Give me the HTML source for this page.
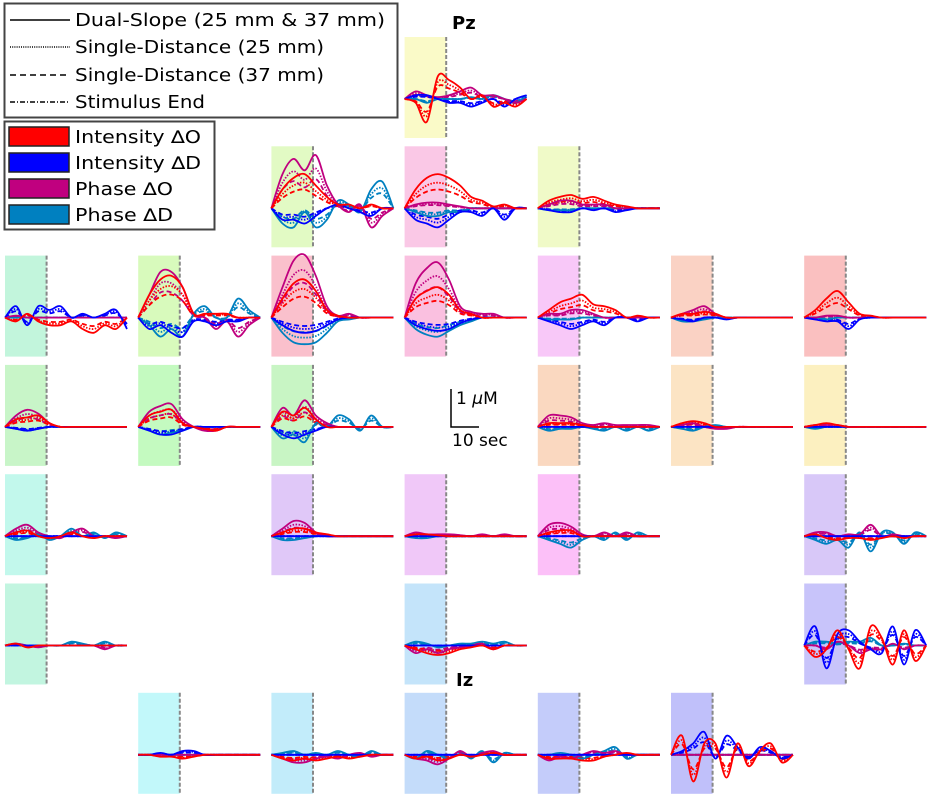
<!DOCTYPE html>
<html><head><meta charset="utf-8"><style>
body{margin:0;background:#fff;font-family:"DejaVu Sans","Liberation Sans",sans-serif}
svg{display:block}
</style></head><body>
<svg id="c" width="931" height="795" viewBox="0 0 931 795" font-family="DejaVu Sans, Liberation Sans, sans-serif">
<g>
<rect x="4.5" y="3.5" width="393" height="114" fill="#fff" stroke="#444" stroke-width="2"/>
<line x1="10" y1="20" x2="70" y2="20" stroke="#000" stroke-width="1.5"/>
<line x1="10" y1="47" x2="70" y2="47" stroke="#000" stroke-width="1.5" stroke-dasharray="1,1.2"/>
<line x1="10" y1="75" x2="70" y2="75" stroke="#000" stroke-width="1.5" stroke-dasharray="6,4"/>
<line x1="10" y1="102" x2="70" y2="102" stroke="#000" stroke-width="1.5" stroke-dasharray="5,2,1,2"/>
<g font-size="17.5" fill="#000">
<text x="75" y="26" textLength="310" lengthAdjust="spacingAndGlyphs">Dual-Slope (25 mm &amp; 37 mm)</text>
<text x="75" y="53" textLength="249" lengthAdjust="spacingAndGlyphs">Single-Distance (25 mm)</text>
<text x="75" y="81" textLength="249" lengthAdjust="spacingAndGlyphs">Single-Distance (37 mm)</text>
<text x="75" y="108" textLength="130" lengthAdjust="spacingAndGlyphs">Stimulus End</text>
</g></g>
<g>
<rect x="4.5" y="121.5" width="210" height="108" fill="#fff" stroke="#444" stroke-width="2"/>
<rect x="9" y="127" width="60" height="19" fill="#ff0000" stroke="#222" stroke-width="1.5"/>
<rect x="9" y="153" width="60" height="19" fill="#0000ff" stroke="#222" stroke-width="1.5"/>
<rect x="9" y="179" width="60" height="19" fill="#c0007f" stroke="#222" stroke-width="1.5"/>
<rect x="9" y="205" width="60" height="19" fill="#0080c0" stroke="#222" stroke-width="1.5"/>
<g font-size="17.5" fill="#000">
<text x="75" y="143" textLength="126" lengthAdjust="spacingAndGlyphs">Intensity ∆O</text>
<text x="75" y="169" textLength="126" lengthAdjust="spacingAndGlyphs">Intensity ∆D</text>
<text x="75" y="195" textLength="98" lengthAdjust="spacingAndGlyphs">Phase ∆O</text>
<text x="75" y="221" textLength="98" lengthAdjust="spacingAndGlyphs">Phase ∆D</text>
</g></g>
<text x="452" y="29" font-size="18" font-weight="bold">Pz</text>
<text x="456" y="686" font-size="18" font-weight="bold">Iz</text>
<g>
<path d="M451,389 V427 H479" fill="none" stroke="#000" stroke-width="1.5"/>
<text x="456" y="404" font-size="17">1 <tspan font-style="italic">μ</tspan>M</text>
<text x="452" y="446" font-size="17">10 sec</text>
</g>
<g id="panels"></g>
</svg>
<script>
const times=[0,4,8,12,16,20,24,28,32,36,40,44];
const panelRows=[0,1,1,1,2,2,2,2,2,2,2,3,3,3,3,3,3,4,4,4,4,4,5,5,5,6,6,6,6,6];
const panelCols=[3,2,3,4,0,1,2,3,4,5,6,0,1,2,4,5,6,0,2,3,4,6,0,3,6,1,2,3,4,5];
const shadeColors=["#fafac8","#e2fac4","#fac8e6","#f0fac8","#c2f5dc","#d8fabc","#fac0cc","#fac0e0","#f8c8f8","#fad2c4","#fac0c0","#c8f5c8","#c4fac0","#c8f5c4","#fad8c0","#fce4c4","#fcf0c0","#c2f8ec","#e0c8f8","#f0c8f8","#fcc0f8","#d8c8f8","#c2f5e0","#c4e4fa","#c8c4fa","#c2f8fa","#c2ecfa","#c4dcfa","#c4ccfa","#c0c0fa"];
const Z=[0,0,0,0,0,0,0,0,0,0,0,0];
const intensityO=[
[0,-0.1,-0.6,0.6,0.5,0.3,0,0.1,-0.2,-0.1,-0.2,0],
[0,0.5,0.8,0.9,0.6,0.3,0.1,0.1,0,0.1,0,0],
[0,0.5,0.8,0.9,0.8,0.6,0.3,0.2,0.05,0.1,0,0],
[0,0.2,0.3,0.35,0.25,0.3,0.2,0.1,0.05,0,0,0],
[0,-0.1,0.1,-0.1,-0.2,-0.2,-0.1,-0.3,-0.4,-0.2,-0.3,0],
[0,0.6,1.0,1.1,0.8,0.1,0.1,0.1,0.1,0,0,0],
[0,0.5,0.9,1.0,0.7,0.2,0.05,0,0,0,0,0],
[0,0.5,0.7,0.8,0.6,0.2,0.1,0,0,0,0,0],
[0,0.2,0.4,0.5,0.6,0.35,0.3,0.2,0,0.05,0,0],
[0,0.1,0.1,0.15,0.1,0,0,0,0,0,0,0],
[0,0.2,0.5,0.7,0.4,0.1,0.05,0,0,0,0,0],
[0,0.2,0.25,0.3,0.1,0,0,0,0,0,0,0],
[0,0.3,0.4,0.45,0.1,0,-0.05,-0.1,0,0,0,0],
[0,0.4,0.3,0.5,0.2,0,0,0,0,0,0,0],
[0,0.1,0.1,0.1,0.05,0,0,0,0,0,0,0],
[0,0.1,0.15,0.1,0,0,0,0,0,0,0,0],
[0,0.05,0.1,0.05,0,0,0,0,0,0,0,0],
[0,0.1,0.15,0,-0.05,0,0.1,0,-0.05,0,0,0],
[0,0.1,0.2,0.2,0.1,0.05,0,0,0,0,0,0],
[0,0.05,0.05,0.02,0,0,0,0,0,0,0,0],
[0,0.1,0.15,0.15,0,0,0,0,0,0,0,0],
[0,0.05,-0.05,-0.1,-0.05,-0.05,-0.1,-0.05,0,-0.05,0,0],
[0,0.05,-0.05,0,0,0,0,0,0,0,0,0],
[0,-0.1,-0.2,-0.25,-0.2,-0.1,-0.05,0,-0.1,0,0,0],
[0,-0.3,-0.1,0.4,-0.1,-0.6,0.5,0.2,-0.5,0.4,-0.4,0],
[0,0,-0.05,-0.05,-0.1,-0.05,0,0,0,0,0,0],
[0,-0.1,-0.15,-0.1,-0.15,-0.1,-0.05,-0.1,-0.05,0,0,0],
[0,-0.1,-0.05,-0.15,-0.1,0,-0.05,0,0.05,0,0,0],
[0,-0.1,-0.1,-0.1,-0.15,-0.15,-0.05,0,0.05,0,0,0],
[0,0.5,-0.7,0.3,0.3,-0.6,0.3,-0.3,0.1,0.3,-0.2,0]];
const intensityD=[
[0,0.1,0.1,0,-0.1,-0.1,-0.2,-0.1,0,-0.2,0,0.1],
[0,-0.3,-0.3,-0.4,-0.2,0,0.1,0,-0.1,-0.2,0,0],
[0,-0.3,-0.4,-0.5,-0.3,-0.1,-0.1,-0.2,0,-0.3,0,0],
[0,-0.05,-0.1,-0.1,0,-0.05,0,-0.1,-0.05,0,0,0],
[0,0.3,-0.2,0.3,0.2,0.3,0,0.1,0,0.1,0.2,-0.3],
[0,-0.3,-0.2,-0.4,-0.5,-0.1,-0.1,-0.2,-0.1,-0.1,0,0],
[0,-0.2,-0.35,-0.4,-0.35,-0.2,-0.05,0,0,0,0,0],
[0,-0.2,-0.3,-0.35,-0.3,-0.15,-0.05,0,0,0,0,0],
[0,-0.1,-0.2,-0.3,-0.2,-0.1,-0.2,0,0,-0.1,0,0],
[0,-0.05,-0.1,0,0,-0.05,0,0,0,0,0,0],
[0,-0.05,-0.1,-0.1,-0.3,-0.05,0,0,0,0,0,0],
[0,-0.05,-0.1,-0.05,0,0,0,0,0,0,0,0],
[0,-0.1,-0.2,-0.2,-0.1,0,0,0,0,0,0,0],
[0,-0.2,-0.3,-0.2,-0.1,0,0,0,0,0,0,0],
Z,Z,Z,Z,Z,Z,Z,Z,Z,Z,
[0,0.5,-0.6,0.3,0.4,0.1,-0.1,-0.2,0.5,-0.5,0.4,0],
[0,0,0.05,0,0.1,0.1,0,0,0,0,0,0],
Z,Z,Z,
[0,0.1,0.3,0.6,-0.1,0.5,0.2,-0.1,0.2,0.1,-0.1,0]];
const phaseO=[
[0,0.2,0.1,0.05,0.1,0.2,0.3,0.1,0.1,0,-0.1,0],
[0,0.9,1.3,1.0,1.4,0.6,0.1,-0.1,0.1,-0.5,-0.2,0],
[0,0.1,0.15,0.15,0.1,0.05,0,0,0,0,0,0],
[0,0.1,0.2,0.2,0.1,0.1,0.1,0,0,0,0,0],
[0,0.05,0,0,0,0,0,0,0,0,0,0],
[0,0.6,1.2,1.2,0.8,0.1,0,-0.3,-0.1,-0.5,-0.2,0],
[0,0.8,1.5,1.65,1.1,0.3,0.05,0.1,0,0,0,0],
[0,0.9,1.3,1.45,1.0,0.3,0.15,0.1,0.1,0,0,0],
[0,0.1,0.1,0.2,0.2,0.1,0,0,0,0,0,0],
[0,0.1,0.2,0.3,0.1,0,0,0,0,0,0,0],
[0,0,0.05,0.05,0,0,0,0,0,0,0,0],
[0,0.3,0.45,0.35,0.1,0,0,0,0,0,0,0],
[0,0.4,0.55,0.6,0.2,0,-0.1,-0.1,0,0,0,0],
[0,0.5,0.3,0.7,0.3,0.1,0,0,0,0,0,0],
[0,0.3,0.3,0.25,0.1,0.05,0.1,0.05,0.05,0.05,0.05,0],
[0,0.05,0.1,0,-0.05,-0.05,0,0,0,0,0,0],
[0,0.05,0.05,0.05,0,0,0,0,0,0,0,0],
[0,0.2,0.3,0.1,0,-0.05,0.1,0.2,0,0,-0.05,0],
[0,0.2,0.4,0.35,0.1,0,0,0,0,0,0,0],
[0,0.1,0.05,0.05,0.05,0.03,0,0.05,0,0.05,0,0],
[0,0.3,0.35,0.25,0.05,0,0.1,0,0.1,0,0,0],
[0,0.1,0.1,0,0.05,0.05,0.3,0,0.05,0,0,0],
[0,0.05,0,-0.05,0,0,0,0,0,-0.1,0,0],
[0,-0.2,-0.1,-0.2,-0.1,-0.05,0,0.05,-0.1,0,0,0],
[0,0,-0.1,0.1,0,-0.2,-0.1,-0.1,0.05,-0.1,0,0],
Z,
[0,-0.1,-0.2,-0.2,-0.1,-0.05,-0.1,0,0.05,-0.05,0,0],
[0,-0.1,-0.15,-0.25,-0.1,0.1,-0.05,0.05,0.1,0,0,0],
[0,-0.15,-0.05,-0.1,0,0.1,0.05,0.1,0,0,0,0],
Z];
const phaseD=[
[0,0,-0.1,0,0,0,0.05,0,0.1,0,-0.1,0.1],
[0,-0.4,-0.5,-0.1,-0.5,-0.3,0.2,0.1,-0.1,0.5,0.7,0],
[0,-0.1,-0.2,-0.2,-0.1,-0.1,0,0,0,0,0,0],
[0,-0.05,-0.05,-0.05,0,0,0,0,0,0,0,0],
Z,
[0,-0.2,-0.5,-0.3,-0.5,0.1,0.3,0,0,0.5,0.2,0],
[0,-0.4,-0.65,-0.7,-0.65,-0.4,-0.1,-0.05,0,0,0,0],
[0,-0.3,-0.45,-0.5,-0.35,-0.2,-0.1,0,0,0,0,0],
[0,-0.05,-0.05,-0.05,0,0,0,0,0,0,0,0],
[0,-0.1,-0.1,-0.05,0,0,0,0,0,0,0,0],
[0,0,-0.05,0,0,0,0,0,0,0,0,0],
[0,-0.05,-0.1,-0.05,0,0,0,0,0,0,0,0],
[0,-0.1,-0.2,-0.15,-0.1,0,0,0,0,0,0,0],
[0,-0.3,-0.2,-0.4,0.1,0,0.3,0.2,-0.1,0.3,0,0],
[0,-0.1,-0.05,-0.05,0,-0.05,-0.1,0,-0.1,0,-0.1,0],
[0,-0.05,-0.1,0,0.05,0,0,0,0,0,0,0],
[0,-0.05,0,0,0,0,0,0,0,0,0,0],
[0,-0.1,-0.05,0.05,-0.1,0,0.2,0,0.1,-0.05,0.1,0],
[0,-0.1,-0.1,-0.05,0,0,0,0,0,0,0,0],
[0,-0.05,-0.05,0,0,0,0,0,0,0,0,0],
[0,-0.1,-0.2,-0.3,-0.1,0,-0.1,0.1,-0.1,0.1,0,0],
[0,-0.1,-0.2,-0.1,-0.3,0.1,-0.4,0.1,0.1,-0.2,0.1,0],
[0,0.05,0,0,0,0,0.1,0.05,0,0.1,0,0],
[0,0.1,0.05,-0.05,0,0.05,0.05,0.1,0.05,0.1,0,0],
[0,0.1,0.1,0.05,0.1,0.1,0.2,0,0,0.05,0,0],
Z,
[0,0.05,0.1,0,0.05,0,0.1,0,-0.05,0.1,0,0],
[0,-0.1,0.1,0,-0.1,0.1,-0.1,0.1,-0.2,0.05,0,0],
[0,0,0.05,0,-0.1,0,0.1,0.2,-0.1,0,0,0],
Z];
const seriesColors=["#ff0000","#0000ff","#c0007f","#0080c0"];
const NS="http://www.w3.org/2000/svg";
const colX=c=>5+c*133.2, rowY=r=>37+r*109.3;
const PX_PER_UM=38, T_MAX=44, W=122, STIM=15;
function smooth(pts){let d=`M${pts[0][0].toFixed(1)},${pts[0][1].toFixed(1)}`;
 for(let i=0;i<pts.length-1;i++){const p0=pts[Math.max(0,i-1)],p1=pts[i],p2=pts[i+1],p3=pts[Math.min(pts.length-1,i+2)];
  d+=` C${(p1[0]+(p2[0]-p0[0])/6).toFixed(1)},${(p1[1]+(p2[1]-p0[1])/6).toFixed(1)} ${(p2[0]-(p3[0]-p1[0])/6).toFixed(1)},${(p2[1]-(p3[1]-p1[1])/6).toFixed(1)} ${p2[0].toFixed(1)},${p2[1].toFixed(1)}`;}
 return d;}
const root=document.getElementById('panels');
panelRows.forEach((r,i)=>{
 const x0=colX(panelCols[i]), y0=rowY(r), base=y0+62;
 const xs=t=>x0+t/T_MAX*W, ys=v=>base-v*PX_PER_UM;
 const g=document.createElementNS(NS,'g');
 
 
 const rc=document.createElementNS(NS,'rect');
 rc.setAttribute('x',x0);rc.setAttribute('y',y0);rc.setAttribute('width',xs(STIM)-x0);rc.setAttribute('height',101);rc.setAttribute('fill',shadeColors[i]);
 
 
 g.appendChild(rc);
 const ln=document.createElementNS(NS,'line');
 ln.setAttribute('x1',xs(STIM));ln.setAttribute('x2',xs(STIM));ln.setAttribute('y1',y0);ln.setAttribute('y2',y0+101);
 ln.setAttribute('stroke','#888');ln.setAttribute('stroke-width','2');ln.setAttribute('stroke-dasharray','4,2');
 
 
 g.appendChild(ln);
 const all=[intensityO[i],intensityD[i],phaseO[i],phaseD[i]];
 const variants=[[0.75,'1.5,1.5'],[0.55,'5,3'],[1,null]];
 variants.forEach(([s,dash])=>{
  [3,2,1,0].forEach(k=>{
   const vals=all[k];
   const p=document.createElementNS(NS,'path');
   p.setAttribute('d',smooth(vals.map((v,j)=>[xs(times[j]),ys(v*s)])));
   p.setAttribute('fill','none');p.setAttribute('stroke',seriesColors[k]);p.setAttribute('stroke-width','1.8');
   if(dash)p.setAttribute('stroke-dasharray',dash);
   
   
   g.appendChild(p);
  });
 });
 root.appendChild(g);
});
</script>
</body></html>
